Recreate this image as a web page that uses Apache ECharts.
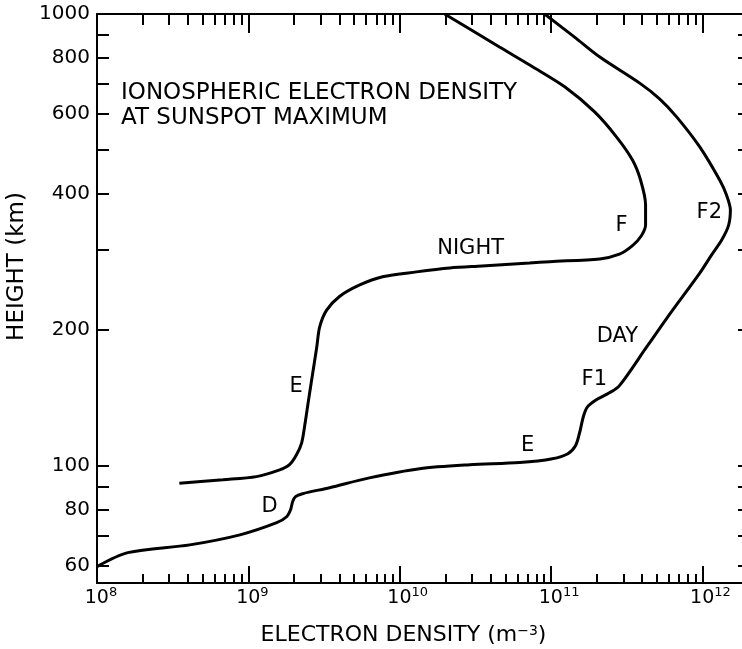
<!DOCTYPE html>
<html>
<head>
<meta charset="utf-8">
<script src="https://cdn.jsdelivr.net/npm/echarts@6/dist/echarts.min.js"></script>
<style>
html,body{margin:0;padding:0;background:#fff;}
#chart{width:742px;height:649px;}
</style>
</head>
<body>
<div id="chart"></div>
<script>
// Day profile: electron density (m^-3) vs height (km), from bottom to top
const dayDensity = [1.0e8, 1.6e8, 4.1e8, 8.8e8, 1.54e9, 1.79e9, 1.90e9, 1.96e9, 2.05e9, 2.28e9, 3.44e9, 6.3e9, 1.35e10, 2.9e10, 6.2e10, 1.02e11, 1.29e11, 1.45e11, 1.54e11, 1.64e11, 1.74e11, 1.99e11, 2.43e11, 2.83e11, 4.27e11, 6.35e11, 9.6e11, 1.15e12, 1.34e12, 1.49e12, 1.53e12, 1.44e12, 1.30e12, 9.6e11, 6.75e11, 5.21e11, 3.85e11, 2.1e11, 1.43e11, 9.06e10];
const dayHeight  = [59.8, 64.2, 66.8, 70.3, 74.8, 77.1, 79.9, 83.2, 85.4, 86.7, 89.4, 94, 98.5, 100.5, 101.6, 103.6, 106.3, 110.7, 118, 129, 135, 140, 145, 150.4, 183, 221, 267, 293, 316, 341, 368, 398, 429, 508, 592, 649, 703, 803, 889, 1000];
// Night profile, from bottom-left to top
const nightDensity = [3.5e8, 6.8e8, 1.13e9, 1.61e9, 1.87e9, 2.08e9, 2.25e9, 2.36e9, 2.50e9, 2.62e9, 2.83e9, 2.96e9, 3.29e9, 4.0e9, 5.4e9, 7.7e9, 1.29e10, 2.14e10, 3.5e10, 7.2e10, 9.8e10, 2.1e11, 2.83e11, 3.45e11, 3.95e11, 4.21e11, 4.21e11, 3.90e11, 3.45e11, 2.71e11, 1.94e11, 1.23e11, 7.55e10, 4.56e10, 2.90e10, 1.98e10];
const nightHeight  = [91.5, 93.1, 94.6, 97.9, 100.5, 105.7, 112.4, 123, 140, 155, 183, 203, 221, 237, 251, 262, 268.6, 274, 276.8, 281, 283, 287, 294, 307, 323, 341, 378, 429, 475, 534, 607, 690, 764, 845, 926, 1000];
// In-plot annotations
const labelText    = ['NIGHT', 'F', 'F2', 'DAY', 'F1', 'E', 'E', 'D'];
const labelDensity = [2.94e10, 2.92e11, 1.11e12, 2.74e11, 1.93e11, 7.0e10, 2.07e9, 1.38e9];
const labelHeight  = [302, 341, 363, 193, 155, 110.7, 149.8, 81.3];
// Axis ticks
const xMajorTicks = [1e8, 1e9, 1e10, 1e11, 1e12];
const xMinorTicks = [2e8,3e8,4e8,5e8,6e8,7e8,8e8,9e8, 2e9,3e9,4e9,5e9,6e9,7e9,8e9,9e9, 2e10,3e10,4e10,5e10,6e10,7e10,8e10,9e10, 2e11,3e11,4e11,5e11,6e11,7e11,8e11,9e11];
const yTicks = [60, 70, 80, 90, 100, 200, 300, 400, 500, 600, 700, 800, 900, 1000];
const yLabels = [60, 80, 100, 200, 400, 600, 800, 1000];
const titleLines = ['IONOSPHERIC ELECTRON DENSITY', 'AT SUNSPOT MAXIMUM'];

const FONT = 'DejaVu Sans';
const INK = '#000';
const chart = echarts.init(document.getElementById('chart'), null, {renderer: 'canvas'});

const xRange = {type: 'log', logBase: 10, min: 1e8, max: 2e12};
const hidden = {show: false};
function xAx(pos, ticks, len, extra) {
  return Object.assign({}, xRange, {
    position: pos,
    axisLine: {show: true, onZero: false, lineStyle: {color: INK, width: 2}},
    axisTick: {show: true, inside: true, length: len, customValues: ticks, lineStyle: {color: INK, width: 2}},
    axisLabel: hidden,
    splitLine: hidden,
    minorTick: hidden
  }, extra || {});
}

const option = {
  backgroundColor: '#fff',
  animation: false,
  title: {
    text: titleLines.join('\n'),
    left: 116, top: 76,
    textStyle: {fontFamily: FONT, fontSize: 23, fontWeight: 'normal', color: INK, lineHeight: 25}
  },
  grid: {left: 97, top: 14, right: -6, bottom: 66, containLabel: false, outerBoundsMode: 'none'},
  xAxis: [
    xAx('bottom', xMajorTicks, 17, {
      name: 'ELECTRON DENSITY (m{s|−3})',
      nameLocation: 'middle',
      nameGap: 41,
      nameTextStyle: {
        fontFamily: FONT, fontSize: 22, color: INK, padding: [0, 38, 0, 0],
        rich: {s: {fontFamily: FONT, fontSize: 14, color: INK, verticalAlign: 'top', lineHeight: 12}}
      },
      axisLabel: {
        show: true, margin: 3, customValues: xMajorTicks, color: INK,
        formatter: function (v) {
          const e = Math.round(Math.log10(v));
          return '{p' + (String(e).length) + '|}{b|10}{s|' + e + '}';
        },
        rich: {
          b: {fontFamily: FONT, fontSize: 19, color: INK, lineHeight: 24},
          s: {fontFamily: FONT, fontSize: 13, color: INK, lineHeight: 12, verticalAlign: 'top'},
          p1: {width: 8}, p2: {width: 16}
        }
      }
    }),
    xAx('bottom', xMinorTicks, 9, {axisLine: hidden}),
    xAx('top', xMajorTicks, 19),
    xAx('top', xMinorTicks, 11, {axisLine: hidden})
  ],
  yAxis: [
    {
      type: 'log', logBase: 10, min: 55, max: 1000, position: 'left',
      axisLine: {show: true, onZero: false, lineStyle: {color: INK, width: 2}},
      axisTick: {show: true, inside: true, length: 12, customValues: yTicks, lineStyle: {color: INK, width: 2}},
      axisLabel: {show: true, customValues: yLabels, margin: 7, color: INK, fontFamily: FONT, fontSize: 20,
                  formatter: function (v) { return String(Math.round(v)); }},
      splitLine: hidden, minorTick: hidden,
      name: 'HEIGHT (km)', nameLocation: 'middle', nameRotate: 90, nameGap: 56,
      nameTextStyle: {fontFamily: FONT, fontSize: 23, color: INK, padding: [0, 0, 0, 64]}
    },
    {
      type: 'log', logBase: 10, min: 55, max: 1000, position: 'right',
      axisLine: {show: false, onZero: false},
      axisTick: {show: true, inside: true, length: 10, customValues: yTicks, lineStyle: {color: INK, width: 2}},
      axisLabel: hidden, splitLine: hidden, minorTick: hidden
    }
  ],
  series: [
    {
      name: 'Day', type: 'line', xAxisIndex: 0, yAxisIndex: 0,
      data: dayDensity.map((d, i) => [d, dayHeight[i]]),
      showSymbol: false, symbol: 'none', smooth: 0.3,
      lineStyle: {color: INK, width: 3}
    },
    {
      name: 'Night', type: 'line', xAxisIndex: 0, yAxisIndex: 0,
      data: nightDensity.map((d, i) => [d, nightHeight[i]]),
      showSymbol: false, symbol: 'none', smooth: 0.3,
      lineStyle: {color: INK, width: 3}
    },
    {
      name: 'Labels', type: 'scatter', xAxisIndex: 0, yAxisIndex: 0,
      symbolSize: 0, silent: true, itemStyle: {color: INK, opacity: 1},
      data: labelText.map((t, i) => ({name: t, value: [labelDensity[i], labelHeight[i]]})),
      label: {show: true, position: [0, 0], align: 'center', verticalAlign: 'middle', formatter: '{b}',
              fontFamily: FONT, fontSize: 21, color: INK, opacity: 1, textBorderWidth: 0}
    }
  ]
};
chart.setOption(option);
</script>
</body>
</html>
